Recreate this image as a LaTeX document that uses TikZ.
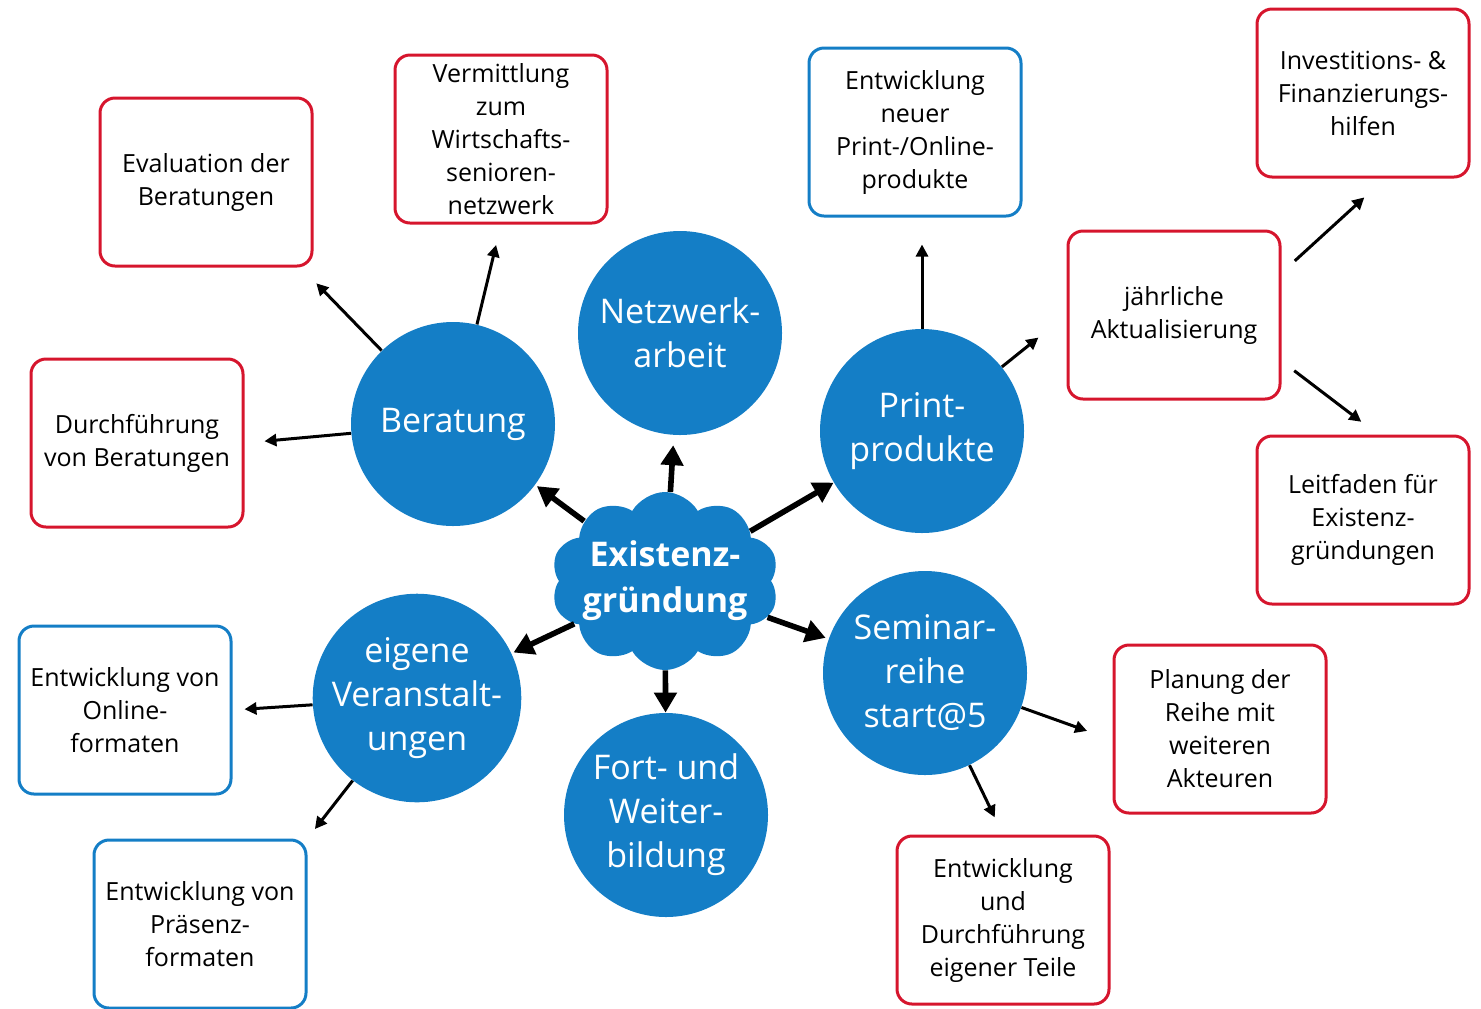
\documentclass[tikz,border=0pt]{standalone}
\usepackage{fontspec}
\setmainfont{Open Sans}
\usetikzlibrary{arrows.meta, shapes.symbols}
\definecolor{CircBlue}{RGB}{20,126,198}
\definecolor{BoxRed}{RGB}{214,21,45}

\begin{document}
\begin{tikzpicture}[x=0.5pt, y=-0.5pt,
        topic/.style={circle, fill=CircBlue, minimum size=102pt, inner sep=0pt, align=center, text=white, font=\fontsize{17}{22}\selectfont},
        core/.style={cloud, cloud puffs=10, cloud puff arc=120, aspect=1.35, fill=CircBlue, minimum width=114pt, minimum height=89pt, inner sep=-8pt, align=center, text=white, font=\fontsize{17}{23}\selectfont\bfseries},
        task/.style={rectangle, rounded corners=7.5pt, line width=1.5pt, minimum width=106pt, minimum height=84pt, inner sep=1pt, align=center, font=\fontsize{12.5}{16.5}\selectfont},
        redtask/.style={task, draw=BoxRed},
        bluetask/.style={task, draw=CircBlue},
        bigarrow/.style={-{Triangle[length=10pt, width=11pt]}, line width=2.8pt},
        smallarrow/.style={-{Triangle[length=6pt, width=6pt]}, line width=1.5pt}
    ]
        \useasboundingbox (0,0) rectangle (1481,1008);
        % Themen
        \node[topic] (beratung) at (453,424) {Beratung};
        \node[topic] (netzwerk) at (680,333) {Netzwerk-\\arbeit};
        \node[topic] (print) at (922,431) {Print-\\produkte};
        \node[topic] (seminar) at (925,673) {Seminar-\\reihe\\start@5};
        \node[topic] (fortbildung) at (666,815) {Fort- und\\Weiter-\\bildung};
        \node[topic] (veranstaltung) at (417,698) {eigene\\Veranstalt-\\ungen};
        \node[core] (existenz) at (665,581) {Existenz-\\gründung};
        % Aufgaben
        \node[redtask] (evaluation) at (206,182) {Evaluation der\\Beratungen};
        \node[redtask] (vermittlung) at (501,139) {Vermittlung\\zum\\Wirtschafts-\\senioren-\\netzwerk};
        \node[redtask] (durchfuehrung) at (137,443) {Durchführung\\von Beratungen};
        \node[bluetask] (entwicklung) at (915,132) {Entwicklung\\neuer\\Print-/Online-\\produkte};
        \node[redtask] (investition) at (1363,93) {Investitions- \&\\Finanzierungs-\\hilfen};
        \node[redtask] (aktualisierung) at (1174,315) {jährliche\\Aktualisierung};
        \node[redtask] (leitfaden) at (1363,520) {Leitfaden für\\Existenz-\\gründungen};
        \node[redtask] (planung) at (1220,729) {Planung der\\Reihe mit\\weiteren\\Akteuren};
        \node[redtask] (teile) at (1003,920) {Entwicklung\\und\\Durchführung\\eigener Teile};
        \node[bluetask] (online) at (125,710) {Entwicklung von\\Online-\\formaten};
        \node[bluetask] (praesenz) at (200,924) {Entwicklung von\\Präsenz-\\formaten};
        % Pfeile vom Zentrum
        \draw[bigarrow, shorten >=1pt] (existenz) -- (beratung);
        \draw[bigarrow, shorten >=5pt] (existenz) -- (netzwerk);
        \draw[bigarrow] (existenz) -- (print);
        \draw[bigarrow, shorten >=1.5pt] (existenz) -- (seminar);
        \draw[bigarrow] (existenz) -- (fortbildung);
        \draw[bigarrow, shorten >=1pt] (existenz) -- (veranstaltung);
        % Pfeile zu den Aufgaben
        \draw[smallarrow, shorten >=11pt] (beratung) -- (evaluation.-42);
        \draw[smallarrow, shorten >=10.5pt] (beratung) -- (vermittlung.south);
        \draw[smallarrow, shorten >=10pt] (beratung) -- (durchfuehrung.east);
        \draw[smallarrow, shorten >=13.5pt] (print.north) -- (print.north |- entwicklung.south);
        \draw[smallarrow, shorten >=18pt] (print) -- (aktualisierung.west);
        \draw[smallarrow, shorten <=9pt, shorten >=14pt] ([yshift=21pt]aktualisierung.east) -- ([xshift=11pt]investition.south);
        \draw[smallarrow, shorten <=8pt, shorten >=10.5pt] ([yshift=-23pt]aktualisierung.east) -- ([xshift=7.5pt]leitfaden.north);
        \draw[smallarrow, shorten >=13.5pt] (seminar) -- ([yshift=-5.5pt]planung.west);
        \draw[smallarrow, shorten >=9.5pt] (seminar) -- (teile.north);
        \draw[smallarrow, shorten >=6pt] (veranstaltung) -- (online.east);
        \draw[smallarrow, shorten >=6pt] (veranstaltung) -- (praesenz.north east);
    \end{tikzpicture}
\end{document}
